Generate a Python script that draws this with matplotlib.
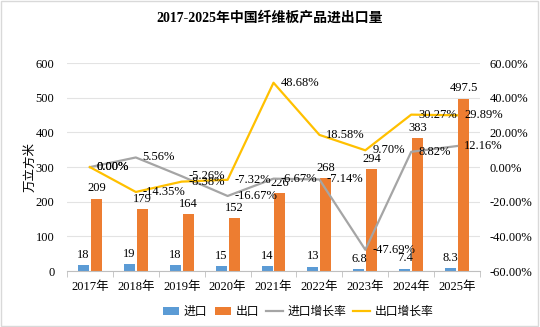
import numpy as np
import matplotlib.pyplot as plt
from matplotlib.patches import Rectangle

years = ['2017年', '2018年', '2019年', '2020年', '2021年', '2022年', '2023年', '2024年', '2025年']
imports = [18, 19, 18, 15, 14, 13, 6.8, 7.4, 8.3]
exports = [209, 179, 164, 152, 226, 268, 294, 383, 497.5]
imp_growth = [0.00, 5.56, -5.26, -16.67, -6.67, -7.14, -47.69, 8.82, 12.16]
exp_growth = [0.00, -14.35, -8.38, -7.32, 48.68, 18.58, 9.70, 30.27, 29.89]
imp_labels = ['0.00%', '5.56%', '-5.26%', '-16.67%', '-6.67%', '-7.14%', '-47.69%', '8.82%', '12.16%']
exp_labels = ['0.00%', '-14.35%', '-8.38%', '-7.32%', '48.68%', '18.58%', '9.70%', '30.27%', '29.89%']

fam = ['Liberation Serif', 'Noto Sans CJK SC']
plt.rcParams['font.family'] = fam
plt.rcParams['axes.unicode_minus'] = False
fs = 9

c_imp = '#5B9BD5'
c_exp = '#ED7D31'
c_ig = '#A5A5A5'
c_eg = '#FFC000'

fig = plt.figure(figsize=(5.4, 3.27), dpi=100)
fig.patches.append(Rectangle((0.002, 0.003), 0.995, 0.994, transform=fig.transFigure,
                             fill=False, edgecolor='#D9D9D9', linewidth=1.0))
ax = fig.add_axes([0.124, 0.171, 0.765, 0.636])
x = np.arange(len(years))
w = 0.24
off = 0.14
b1 = ax.bar(x - off, imports, w, color=c_imp, label='进口', zorder=2)
b2 = ax.bar(x + off, exports, w, color=c_exp, label='出口', zorder=2)
for xi, v in zip(x, imports):
    ax.text(xi - off, v + 12, ('%g' % v), ha='center', va='bottom', fontsize=fs)
for xi, v in zip(x, exports):
    ax.text(xi + off, v + 12, ('%g' % v), ha='center', va='bottom', fontsize=fs)

ax.set_ylim(0, 600)
ax.set_yticks(range(0, 601, 100))
ax.set_xlim(-0.5, len(years) - 0.5)
ax.set_xticks(x)
ax.set_xticklabels(years)
ax.set_xticks(np.arange(-0.5, len(years), 1), minor=True)
ax.tick_params(axis='x', which='major', length=0, pad=7, labelsize=fs)
ax.tick_params(axis='x', which='minor', length=4, color='#BFBFBF')
ax.tick_params(axis='y', length=0, labelsize=fs, pad=9)
ax.grid(axis='y', color='#E3E3E3', linewidth=0.8, zorder=0)
ax.set_axisbelow(True)
for s in ['top', 'left', 'right']:
    ax.spines[s].set_visible(False)
ax.spines['bottom'].set_color('#BFBFBF')
ax.set_ylabel('万立方米', fontsize=fs)
ax.yaxis.set_label_coords(-0.075, 0.5)

ax2 = ax.twinx()
l1, = ax2.plot(x, imp_growth, color=c_ig, linewidth=1.6, label='进口增长率', zorder=3)
l2, = ax2.plot(x, exp_growth, color=c_eg, linewidth=1.6, label='出口增长率', zorder=3)
for xi, v, t in zip(x, imp_growth, imp_labels):
    ax2.text(xi + 0.15, v, t, ha='left', va='center', fontsize=fs)
for xi, v, t in zip(x, exp_growth, exp_labels):
    ax2.text(xi + 0.15, v, t, ha='left', va='center', fontsize=fs)
ax2.set_ylim(-60, 60)
ax2.set_yticks(range(-60, 61, 20))
ax2.set_yticklabels(['%.2f%%' % t for t in range(-60, 61, 20)])
ax2.tick_params(axis='y', length=0, labelsize=fs, pad=7)
for s in ['top', 'left', 'right', 'bottom']:
    ax2.spines[s].set_visible(False)

fig.text(0.5, 0.945, '2017-2025年中国纤维板产品进出口量', ha='center', va='center',
         fontsize=10, fontweight='bold')
fig.legend([b1, b2, l1, l2], ['进口', '出口', '进口增长率', '出口增长率'],
           loc='center', bbox_to_anchor=(0.552, 0.045), ncol=4, frameon=False,
           fontsize=8.5, handlelength=1.4, handleheight=0.6, columnspacing=0.6,
           handletextpad=0.4)

fig.savefig('out.png', dpi=100)
